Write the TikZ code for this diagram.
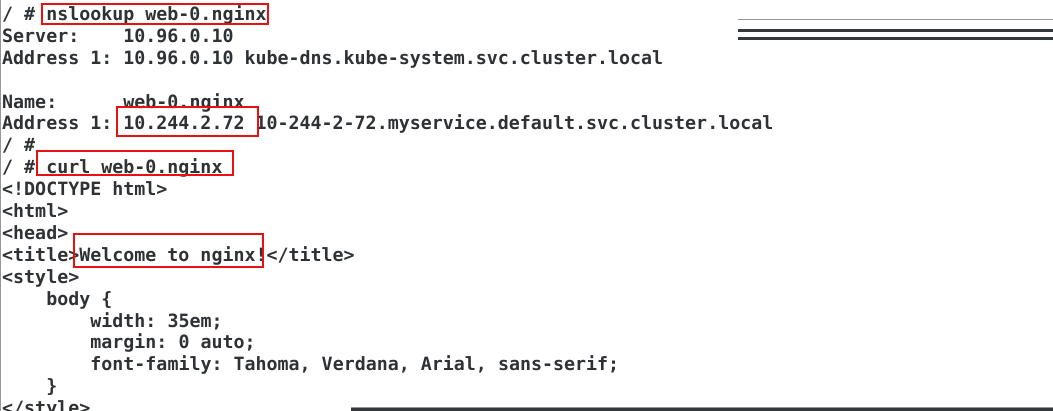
\documentclass[tikz,border=0pt]{standalone}
\usepackage{fontspec}
\setmonofont{DejaVu Sans Mono}
\definecolor{termtext}{RGB}{46,50,52}
\definecolor{termred}{RGB}{232,16,16}
\definecolor{termrule}{RGB}{52,56,58}
\definecolor{termgray}{RGB}{150,150,150}
\tikzset{
  term/.style={anchor=base west,inner sep=0pt,text=termtext,
    font=\ttfamily\bfseries\fontsize{18.3}{22}\selectfont},
  hilite/.style={draw=termred,line width=2pt},
}

\begin{document}
\begin{tikzpicture}[x=1pt,y=-1pt]%
        \useasboundingbox (0,0) rectangle (1053,411);%
        \clip (0,0) rectangle (1053,411);%
        % window edges
        \draw[termgray,line width=1.2pt] (0.6,0) to (0.6,411);%
        \draw[termgray,line width=1pt] (738,20) to (1053,20);%
        \draw[termgray,line width=3.4pt] (738,30.3) to (1053,30.3);%
        \draw[termrule,line width=2.2pt] (738,30.5) to (1053,30.5);%
        \draw[termrule,line width=2.4pt] (738,38.6) to (1053,38.6);%
        \draw[termgray,line width=3.6pt] (351,409.2) to (1053,409.2);%
        \draw[termrule,line width=2.6pt] (351,409.6) to (1053,409.6);%
        % terminal lines
        \node[term] (ln0) at (2,20.5) {/ \# nslookup web-0.nginx};%
        \node[term] (ln1a) at (2,42.4) {Server:};%
        \node[term] (ln1b) at (123.2,42.4) {10.96.0.10};%
        \node[term] (ln2) at (2,64.3) {Address 1: 10.96.0.10 kube-dns.kube-system.svc.cluster.local};%
        \node[term] (ln4a) at (2,108.1) {Name:};%
        \node[term] (ln4b) at (123.2,108.1) {web-0.nginx};%
        \node[term] (ln5) at (2,130) {Address 1: 10.244.2.72 10-244-2-72.myservice.default.svc.cluster.local};%
        \node[term] (ln6) at (2,151.9) {/ \#};%
        \node[term] (ln7) at (2,173.8) {/ \# curl web-0.nginx};%
        \node[term] (ln8) at (2,195.7) {<!DOCTYPE html>};%
        \node[term] (ln9) at (2,217.6) {<html>};%
        \node[term] (ln10) at (2,239.5) {<head>};%
        \node[term] (ln11) at (2,261.4) {<title>Welcome to nginx!</title>};%
        \node[term] (ln12) at (2,283.3) {<style>};%
        \node[term] (ln13) at (46.1,305.2) {body \{};%
        \node[term] (ln14) at (90.2,327.1) {width: 35em;};%
        \node[term] (ln15) at (90.2,349) {margin: 0 auto;};%
        \node[term] (ln16) at (90.2,370.9) {font-family: Tahoma, Verdana, Arial, sans-serif;};%
        \node[term] (ln17) at (46.1,392.8) {\}};%
        \node[term] (ln18) at (2,414.7) {</style>};%
        % red highlight boxes
        \draw[hilite] (41.7,4) rectangle (267.7,24);%
        \draw[hilite] (116.7,106.7) rectangle (257.7,136);%
        \draw[hilite] (36.7,150.7) rectangle (232.7,175);%
        \draw[hilite] (74,234.3) rectangle (263.3,267.3);%
    \end{tikzpicture}
\end{document}
